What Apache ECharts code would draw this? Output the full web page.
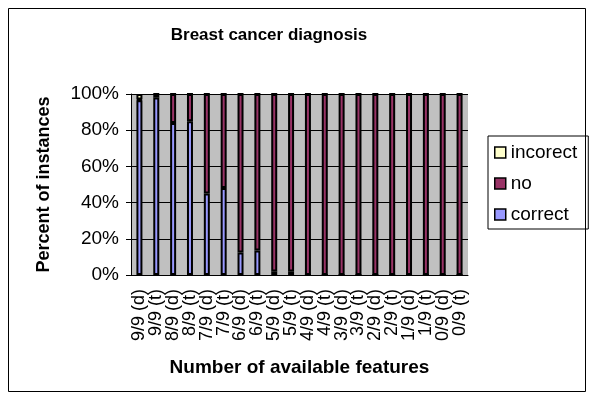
<!DOCTYPE html>
<html><head><meta charset="utf-8">
<script src="https://cdn.jsdelivr.net/npm/echarts@6/dist/echarts.min.js"></script>
<style>html,body{margin:0;padding:0;background:#fff}#c{width:594px;height:400px}</style>
</head><body><div id="c"></div>
<script>
var categories = ['9/9 (d)','9/9 (t)','8/9 (d)','8/9 (t)','7/9 (d)','7/9 (t)','6/9 (d)','6/9 (t)','5/9 (d)','5/9 (t)','4/9 (d)','4/9 (t)','3/9 (d)','3/9 (t)','2/9 (d)','2/9 (t)','1/9 (d)','1/9 (t)','0/9 (d)','0/9 (t)'];
var correct = [96.5, 98, 84, 85, 45, 48, 12.5, 13.5, 2, 2, 0, 0, 0, 0, 0, 0, 0, 0, 0, 0];
var noAnswer = [0.5, 2, 16, 15, 55, 52, 87.5, 86.5, 98, 98, 100, 100, 100, 100, 100, 100, 100, 100, 100, 100];
var incorrect = [3, 0, 0, 0, 0, 0, 0, 0, 0, 0, 0, 0, 0, 0, 0, 0, 0, 0, 0, 0];
var yTicks = [0, 20, 40, 60, 80, 100];

var font = 'Liberation Sans, Arial, sans-serif';
var chart = echarts.init(document.getElementById('c'), null, {renderer:'canvas'});
function bar(name, data, color){
  return {name:name, type:'bar', stack:'all', data:data, barWidth:6,
    itemStyle:{color:color, borderColor:'#000', borderWidth:2}};
}
chart.setOption({
  animation:false,
  backgroundColor:'#fff',
  title:{text:'Breast cancer diagnosis', left:264, textAlign:'center', top:22,
    textStyle:{fontFamily:font, fontSize:17, fontWeight:'bold', color:'#000'}},
  graphic:[{type:'rect', shape:{x:8.5,y:8.5,width:577,height:383}, style:{fill:null, stroke:'#000', lineWidth:1}}],
  legend:{orient:'vertical', left:488, top:136, data:['incorect','no','correct'],
    icon:'rect', itemWidth:11, itemHeight:11, itemGap:12,
    padding:[7,11,5,6], borderColor:'#000', borderWidth:1,
    textStyle:{fontFamily:font, fontSize:19, lineHeight:19, color:'#000'},
    itemStyle:{borderColor:'#000', borderWidth:1.5}},
  grid:{left:131, top:94, right:126, bottom:125, show:true, backgroundColor:'#C0C0C0', borderWidth:0},
  xAxis:{type:'category', data:categories,
    name:'Number of available features', nameLocation:'middle', nameGap:83,
    nameTextStyle:{fontFamily:font, fontSize:19, fontWeight:'bold', color:'#000'},
    axisLine:{lineStyle:{color:'#000'}}, axisTick:{length:5, lineStyle:{color:'#000'}},
    axisLabel:{rotate:90, fontFamily:font, fontSize:18, color:'#000', margin:14, interval:0}},
  yAxis:{type:'value', min:0, max:100, interval:20,
    name:'Percent of instances', nameLocation:'middle', nameGap:78,
    nameTextStyle:{fontFamily:font, fontSize:18, fontWeight:'bold', color:'#000'},
    axisLine:{show:true, lineStyle:{color:'#000'}}, axisTick:{show:true, length:5, lineStyle:{color:'#000'}},
    splitLine:{lineStyle:{color:'#000', width:1}},
    axisLabel:{formatter:'{value}%', fontFamily:font, fontSize:19, color:'#000', margin:12}},
  series:[bar('correct', correct, '#9999FF'), bar('no', noAnswer, '#993366'), bar('incorect', incorrect, '#FFFFCC')]
});
</script></body></html>
